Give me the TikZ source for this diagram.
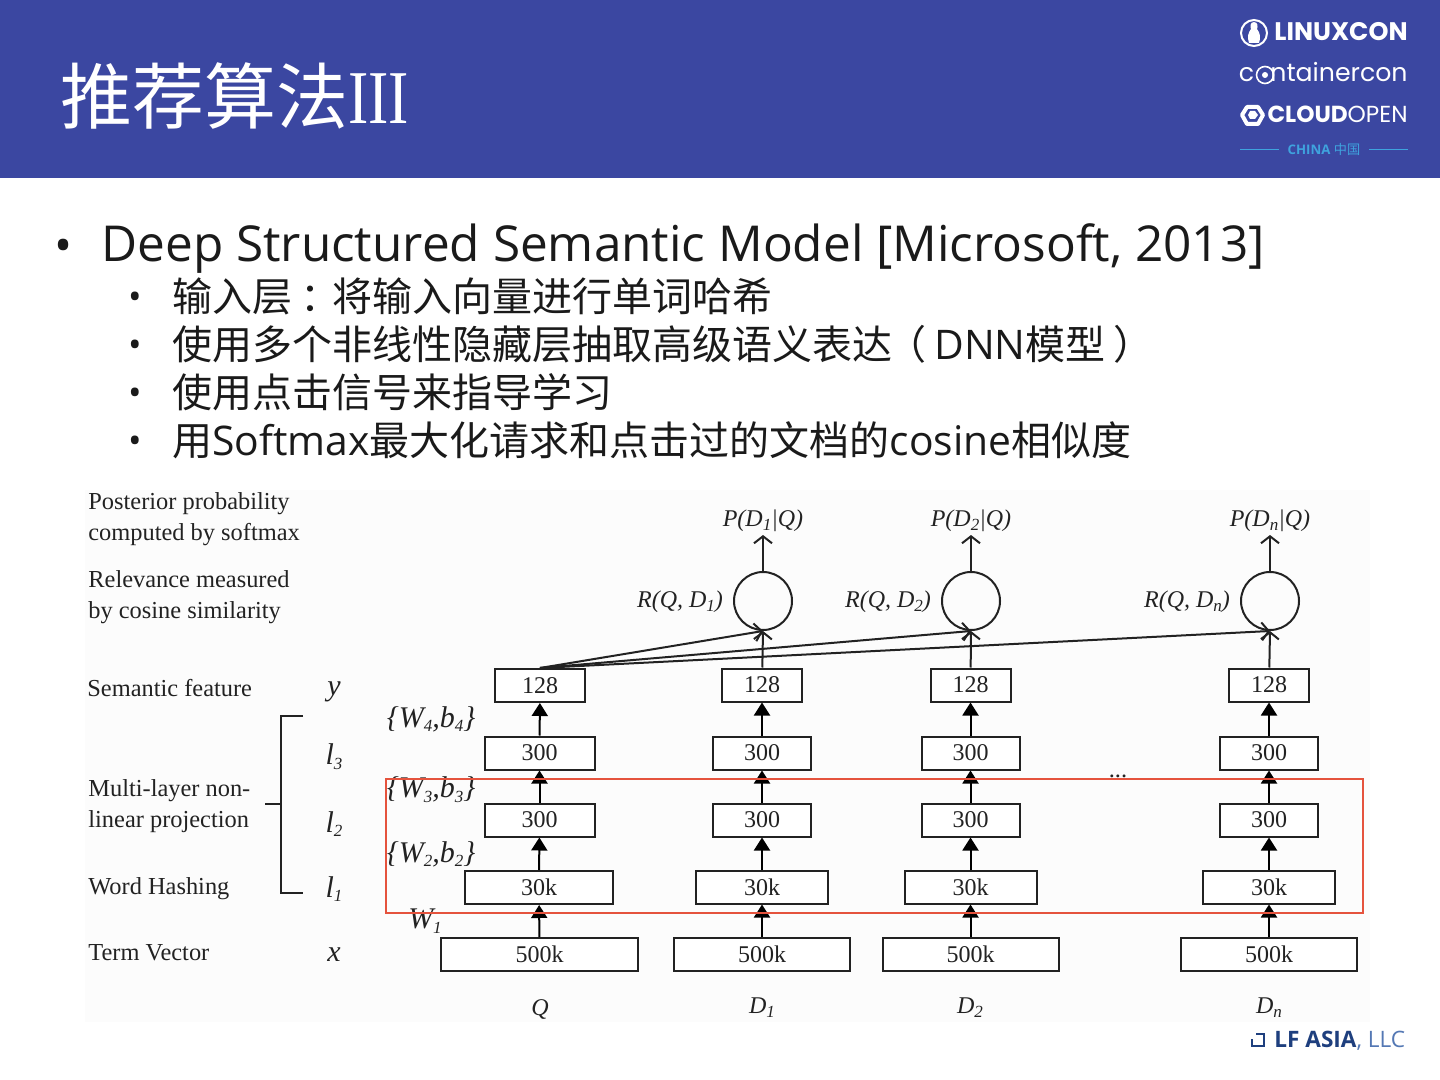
\documentclass[tikz,border=0pt]{standalone}
\usepackage{fontspec}
\setmainfont{Open Sans}
\newfontfamily\cjk{Noto Sans CJK SC}
\newfontfamily\serifdg{Liberation Serif}
\newfontfamily\logof{Poppins}
\usetikzlibrary{arrows.meta}
\definecolor{hdr}{HTML}{3B47A1}
\definecolor{ink}{HTML}{1A1A1A}
\definecolor{dg}{HTML}{222222}
\definecolor{redbox}{HTML}{E5533D}
\definecolor{cyanlogo}{HTML}{3FA3DE}
\definecolor{lfblue}{HTML}{1E3F7E}
\definecolor{lflight}{HTML}{5478B4}
\newcommand{\lowtxt}[1]{\raisebox{-.35ex}{\fontsize{8.5}{9}\selectfont\textit{#1}}}
\newcommand{\latin}[1]{{\rmfamily\fontsize{20.4}{20}\selectfont #1}}
\tikzset{
 x=0.5pt,y=-0.5pt,
 lay/.style={draw=dg,line width=1pt,fill=white,inner sep=0pt,minimum height=16.5pt,text=dg,font=\serifdg\fontsize{12}{12}\selectfont},
 q128/.style={lay,minimum width=45pt},
 d128/.style={lay,minimum width=40pt},
 q300/.style={lay,minimum width=55pt},
 d300/.style={lay,minimum width=49pt},
 q30/.style={lay,minimum width=74pt},
 d30/.style={lay,minimum width=66pt},
 q500/.style={lay,minimum width=98.5pt},
 d500/.style={lay,minimum width=88pt},
 simnode/.style={circle,draw=dg,line width=1pt,inner sep=0pt,minimum size=29pt},
 solid arrow/.style={draw=black,line width=1pt,-{Triangle[length=6.5pt,width=8pt]}},
 open arrow/.style={draw=dg,line width=1pt,-{Straight Barb[length=3.5pt,width=9pt]}},
 dgt/.style={text=dg,inner sep=0pt,font=\serifdg\fontsize{12.2}{15.5}\selectfont},
 dgm/.style={text=dg,inner sep=0pt,font=\serifdg\itshape\fontsize{12}{15}\selectfont},
 dgw/.style={text=dg,inner sep=0pt,font=\serifdg\itshape\fontsize{15}{15}\selectfont},
 sublab/.style={text=ink,inner sep=0pt,anchor=base west,font=\cjk\fontsize{20}{20}\selectfont},
 logow/.style={text=white,inner sep=0pt,anchor=base east},
}
\begin{document}
\begin{tikzpicture}
\useasboundingbox (0,0) rectangle (1440,1080);
\fill[white] (0,0) rectangle (1440,1080);
\fill[hdr] (0,0) rectangle (1440,178);
\node[text=white,inner sep=0pt,anchor=base west] (title) at (60,124) {\cjk\fontsize{36}{36}\selectfont 推荐算法\serifdg\fontsize{38}{38}\selectfont\scalebox{.8}[1]{III}};
% logos
\node[logow,font=\logof\bfseries\fontsize{12.7}{13}\selectfont] (lx) at (1408,41) {LINUXCON};
\draw[white,line width=1pt] (1254,33) circle[radius=13];
\fill[white] (1254,22) .. controls (1250,22) and (1250,27) .. (1251,29) .. controls (1248,33) and (1247,37) .. (1249,43) -- (1259,43) .. controls (1261,37) and (1260,33) .. (1257,29) .. controls (1258,27) and (1258,22) .. (1254,22) -- cycle;
\node[logow,font=\logof\fontsize{12.6}{14}\selectfont] (cc) at (1408,82) {c\phantom{o}ntainercon};
\draw[white,line width=0.8pt] (1265,75) circle[radius=8.5];
\fill[white] (1265,75) circle[radius=3];
\node[logow,font=\logof\fontsize{11.6}{13}\selectfont] (cl) at (1408,123) {\bfseries CLOUD\mdseries OPEN};
\draw[white,line width=2pt,line join=round] (1242,115) -- (1247,107) -- (1258,107) -- (1263,115) -- (1258,124) -- (1247,124) -- cycle;
\fill[white] (1248,115) -- (1250,111) -- (1255,111) -- (1258,115) -- (1255,119) -- (1250,119) -- cycle;
\node[text=cyanlogo,inner sep=0pt] (china) at (1324,149.5) {\fontsize{6.6}{7}\selectfont\bfseries CHINA {\cjk\mdseries 中国}};
\coordinate (ll1) at (1240,149.5); \coordinate (ll2) at (1279,149.5);
\coordinate (lr1) at (1369,149.5); \coordinate (lr2) at (1408,149.5);
\draw[cyanlogo,line width=0.5pt] (ll1) -- (ll2) (lr1) -- (lr2);
% bullets
\node[text=ink,inner sep=0pt] (b0) at (64,251) {\fontsize{24}{24}\selectfont •};
\node[text=ink,inner sep=0pt,anchor=base west] (t0) at (101,262) {\fontsize{24.75}{26}\selectfont Deep Structured Semantic Model [Microsoft, 2013]};
\node[text=ink,inner sep=0pt] (b1) at (135,301) {\fontsize{18}{18}\selectfont •};
\node[text=ink,inner sep=0pt] (b2) at (135,349) {\fontsize{18}{18}\selectfont •};
\node[text=ink,inner sep=0pt] (b3) at (135,397) {\fontsize{18}{18}\selectfont •};
\node[text=ink,inner sep=0pt] (b4) at (135,445) {\fontsize{18}{18}\selectfont •};
\node[sublab] (t1) at (172,312) {输入层\hspace{4pt}：\hspace{-4pt}将输入向量进行单词哈希};
\node[sublab] (t2) at (172,360) {使用多个非线性隐藏层抽取高级语义表达\hspace{-3pt}\mbox{（}\hspace{4pt}\latin{DNN}模型\hspace{4pt}\mbox{）}};
\node[sublab] (t3) at (172,408) {使用点击信号来指导学习};
\node[sublab] (t4) at (172,456) {用\latin{Softmax}最大化请求和点击过的文档的\latin{cosine}相似度};
% diagram background
\fill[black!1] (85,490) rectangle (1370,1022);
% left text
\node[dgt,align=left,anchor=west] (lab1) at (88,519) {Posterior probability\\computed by softmax};
\node[dgt,align=left,anchor=west] (lab2) at (88,597) {Relevance measured\\by cosine similarity};
\node[dgt,anchor=west] (lab3) at (87,688) {Semantic feature};
\node[dgt,align=left,anchor=west] (lab4) at (88,806) {Multi-layer non-\\linear projection};
\node[dgt,anchor=west] (lab5) at (88,889) {Word Hashing};
\node[dgt,anchor=west] (lab6) at (88,953) {Term Vector};
\node[dgw] (ny) at (334,692) {y};
\node[dgw] (n3) at (334,757) {l\lowtxt{3}};
\node[dgw] (n2) at (334,824) {l\lowtxt{2}};
\node[dgw] (n1) at (334,889) {l\lowtxt{1}};
\node[dgw] (nx) at (334,955) {x};
\coordinate (br1) at (303,716); \coordinate (br2) at (281,716); \coordinate (br3) at (281,893); \coordinate (br4) at (303,893);
\coordinate (br5) at (265,804); \coordinate (br6) at (281,804);
\draw[dg,line width=0.8pt] (br1) -- (br2) -- (br3) -- (br4) (br5) -- (br6);
% Q column
\node[q128] (q1) at (540,685.5) {128};
\node[q300] (q2) at (539.5,753) {300};
\node[q300] (q3) at (539.5,820) {300};
\node[q30] (q4) at (539,887.5) {30k};
\node[q500] (q5) at (539.5,954.5) {500k};
\node[dgm] (qq) at (540,1009) {Q};
% D columns
\node[d128] (a1) at (762,685) {128};
\node[d300] (a2) at (762,753) {300};
\node[d300] (a3) at (762,820) {300};
\node[d30] (a4) at (762,887) {30k};
\node[d500] (a5) at (762,954) {500k};
\node[dgm] (aq) at (762,1008) {D\lowtxt{1}};
\node[simnode] (ac) at (763,601) {};
\node[dgm] (ar) at (680,602) {R(Q, D\lowtxt{1})};
\node[dgm] (ap) at (763,521) {P(D\lowtxt{1}|Q)};
\node[d128] (b1n) at (970.5,685) {128};
\node[d300] (b2n) at (970.5,753) {300};
\node[d300] (b3n) at (970.5,820) {300};
\node[d30] (b4n) at (970.5,887) {30k};
\node[d500] (b5n) at (970.5,954) {500k};
\node[dgm] (bq) at (970,1008) {D\lowtxt{2}};
\node[simnode] (bc) at (971,601) {};
\node[dgm] (br) at (888,602) {R(Q, D\lowtxt{2})};
\node[dgm] (bp) at (971,521) {P(D\lowtxt{2}|Q)};
\node[d128] (c1n) at (1269,685) {128};
\node[d300] (c2n) at (1269,753) {300};
\node[d300] (c3n) at (1269,820) {300};
\node[d30] (c4n) at (1269,887) {30k};
\node[d500] (c5n) at (1269,954) {500k};
\node[dgm] (cq) at (1269,1008) {D\lowtxt{n}};
\node[simnode] (cc2) at (1270,601) {};
\node[dgm] (cr) at (1187,602) {R(Q, D\lowtxt{n})};
\node[dgm] (cp) at (1270,521) {P(D\lowtxt{n}|Q)};
% top outputs
\coordinate (ao) at (763,535); \coordinate (bo) at (971,535); \coordinate (co) at (1270,535);
\draw[open arrow] (ac) -- (ao);
\draw[open arrow] (bc) -- (bo);
\draw[open arrow] (cc2) -- (co);
% internal arrows
\foreach \u/\v in {q5/q4,q4/q3,q3/q2,q2/q1,a5/a4,a4/a3,a3/a2,a2/a1,b5n/b4n,b4n/b3n,b3n/b2n,b2n/b1n,c5n/c4n,c4n/c3n,c3n/c2n,c2n/c1n}
  \draw[solid arrow] (\u) -- (\v);
\draw[open arrow] (a1) -- (ac.south);
\draw[open arrow] (b1n) -- (bc.south);
\draw[open arrow] (c1n) -- (cc2.south);
\draw[open arrow] (q1.north) -- (ac.south);
\draw[open arrow] (q1.north) -- (bc.south);
\draw[open arrow] (q1.north) -- (cc2.south);
% weights
\node[dgw] (w4) at (431,719) {\{W\lowtxt{4},b\lowtxt{4}\}};
\node[dgw] (w3) at (431,790) {\{W\lowtxt{3},b\lowtxt{3}\}};
\node[dgw] (w2) at (431,854) {\{W\lowtxt{2},b\lowtxt{2}\}};
\node[dgw] (w1) at (425,921) {W\lowtxt{1}};
\node[dgt] (dots) at (1118,776) {...};
% red box
\node[draw=redbox,line width=0.6pt,inner sep=0pt,minimum width=488.5pt,minimum height=67pt] (red) at (874.5,846) {};
% LF logo
\draw[lfblue,line width=1.3pt] (1252,1039) -- (1252,1046) -- (1264,1046) -- (1264,1034) -- (1256,1034);
\node[text=lfblue,inner sep=0pt,anchor=base west] (lf) at (1274,1047) {\fontsize{11.3}{11}\selectfont\bfseries LF ASIA\textcolor{lflight}{\mdseries, LLC}};
\end{tikzpicture}
\end{document}
